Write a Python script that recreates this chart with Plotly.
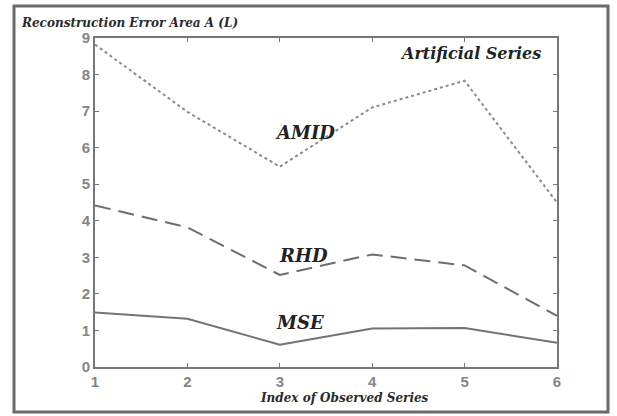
import plotly.graph_objects as go

x_index = [1, 2, 3, 4, 5, 6]
amid = [8.82, 6.98, 5.48, 7.1, 7.83, 4.5]
rhd = [4.42, 3.82, 2.52, 3.08, 2.78, 1.4]
mse = [1.49, 1.32, 0.61, 1.05, 1.07, 0.66]
x_ticks = [1, 2, 3, 4, 5, 6]
y_ticks = [0, 1, 2, 3, 4, 5, 6, 7, 8, 9]

serif = "DejaVu Serif, serif"
sans = "Liberation Sans, Arial, sans-serif"

L, R, T, B = 95, 60, 38, 49
W, H = 617, 416
pw, ph = W - L - R, H - T - B

def px(xp):
    return (xp - L) / pw

def py(yp):
    return (H - B - yp) / ph

fig = go.Figure()
fig.add_trace(go.Scatter(x=x_index, y=amid, mode="lines",
                         line=dict(color="#8a8a8a", width=2, dash="dot"), name="AMID"))
fig.add_trace(go.Scatter(x=x_index, y=rhd, mode="lines",
                         line=dict(color="#6e6e6e", width=2, dash="16px,8px"), name="RHD"))
fig.add_trace(go.Scatter(x=x_index, y=mse, mode="lines",
                         line=dict(color="#737373", width=2), name="MSE"))

axis_common = dict(showgrid=False, zeroline=False, showline=True, linecolor="#777",
                   linewidth=2, mirror="ticks", ticks="inside", ticklen=4,
                   tickcolor="#777",
                   tickfont=dict(family=sans, size=15, color="#858585", weight="bold"))
fig.update_xaxes(range=[1, 6], tickvals=x_ticks, **axis_common)
fig.update_yaxes(range=[0, 9], tickvals=y_ticks, **axis_common)

lab_font = dict(family=serif, size=18, color="#222", weight="bold", style="italic")
fig.add_annotation(x=3.27, y=6.42, text="AMID", showarrow=False, font=lab_font,
                   xanchor="center", yanchor="middle")
fig.add_annotation(x=3.26, y=3.06, text="RHD", showarrow=False, font=lab_font,
                   xanchor="center", yanchor="middle")
fig.add_annotation(x=3.22, y=1.23, text="MSE", showarrow=False, font=lab_font,
                   xanchor="center", yanchor="middle")
fig.add_annotation(x=px(470), y=py(53), xref="paper", yref="paper",
                   text="Artificial Series", showarrow=False,
                   font=dict(lab_font, size=16),
                   xanchor="center", yanchor="middle")
small_font = dict(family=serif, size=12, color="#2a2a2a", weight="bold", style="italic")
fig.add_annotation(x=px(19), y=py(23), xref="paper", yref="paper", xanchor="left",
                   yanchor="middle", text="Reconstruction Error Area A (L)",
                   showarrow=False, font=small_font)
fig.add_annotation(x=px(344), y=py(398), xref="paper", yref="paper",
                   xanchor="center", yanchor="middle",
                   text="Index of Observed Series", showarrow=False, font=small_font)

fig.add_shape(type="rect", xref="paper", yref="paper",
              x0=px(14), x1=px(608), y0=py(412), y1=py(6),
              line=dict(color="#6a6a6a", width=3))

fig.update_layout(width=W, height=H, margin=dict(l=L, r=R, t=T, b=B),
                  paper_bgcolor="white", plot_bgcolor="white", showlegend=False)

fig.write_html("out.html")
